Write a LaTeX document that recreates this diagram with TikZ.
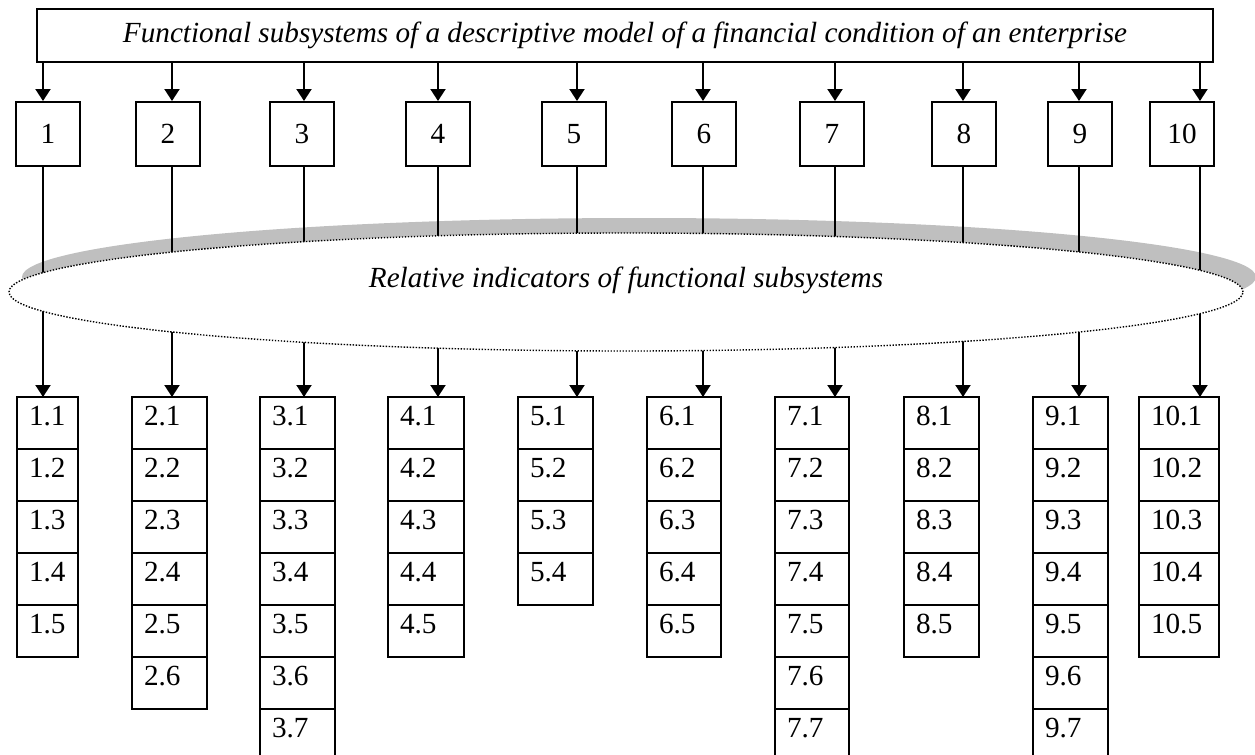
\documentclass[tikz,border=0pt]{standalone}
\usepackage{fontspec}
\setmainfont{Liberation Serif}
\usetikzlibrary{arrows.meta, positioning, shapes.geometric}

\begin{document}
\begin{tikzpicture}[
    x=0.5pt, y=-0.5pt,
    font=\fontsize{14.6}{17}\selectfont,
    title/.style={font=\fontsize{14.6}{17}\selectfont\itshape},
    frame/.style={draw, line width=1pt, inner sep=0pt},
    numbox/.style={frame, minimum width=32pt, minimum height=32pt},
    cell/.style={frame, outer sep=0pt, inner xsep=6pt, text width=#1,
                 align=left, text height=14pt, text depth=12pt},
    arrow/.style={-{Triangle[length=6pt, width=7.5pt]}, line width=1pt},
    link/.style={line width=1pt}
  ]
  \useasboundingbox (0,0) rectangle (1255,755);
  \clip (0,0) rectangle (1255,755);

  \node[frame, title, minimum width=588pt, minimum height=26.5pt] (top) at (625,35.5)
    {Functional subsystems of a descriptive model of a financial condition of an enterprise};
  \coordinate (ec) at (626,292);

  % shadow of the ellipse
  \node[ellipse, fill=black!25, minimum width=617pt, minimum height=59pt, inner sep=0pt]
    (shd) at ([xshift=6.5pt, yshift=7.5pt]ec) {};

  % subsystems and their indicators
  \foreach \i/\bx/\lx/\cx/\tw/\n in {1/48/43/47.5/18.5pt/5, 2/168/172/169.5/25.5pt/6,
      3/302/304/297.5/25.5pt/7, 4/438/438/426/26pt/5, 5/574/577/555.5/25.5pt/4,
      6/704/703/684/25pt/5, 7/832/835/812/25pt/7, 8/964/963/941.5/25.5pt/5,
      9/1080/1079/1070.5/25.5pt/7, 10/1182/1200/1179/28pt/5} {
    \coordinate (k\i) at (\lx,0);
    \node[numbox] (b\i) at (\bx,134) {\i};
    \node[cell=\tw, anchor=north] (c\i-1) at (\cx,397) {\i.1};
    \foreach \j [evaluate=\j as \p using int(\j-1)] in {2,...,\n}
      \node[cell=\tw, below=0pt of c\i-\p] (c\i-\j) {\i.\j};
    \draw[arrow] (top.south -| k\i) -- (b\i.north -| k\i);
    \draw[link] (b\i.south -| k\i) -- (ec -| k\i);
    \draw[arrow] (ec -| k\i) -- (c\i-1.north -| k\i);
  }

  \node[ellipse, draw, fill=white, line width=0.7pt, dash pattern=on 0.7pt off 0.8pt,
        minimum width=617pt, minimum height=59pt, inner sep=0pt] (rel) at (ec) {};
  \node[title] (reltxt) at ([yshift=6pt]rel.center) {Relative indicators of functional subsystems};
\end{tikzpicture}
\end{document}
